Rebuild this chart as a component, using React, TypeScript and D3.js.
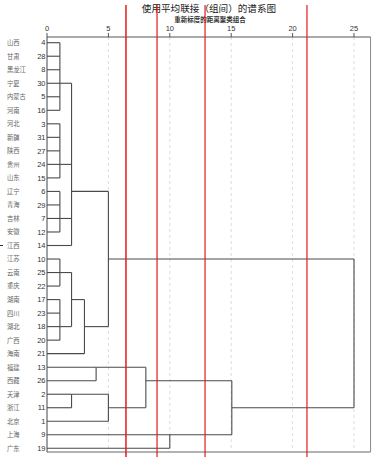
import React from 'react';
import * as d3 from 'd3';

const provinces = ['山西','甘肃','黑龙江','宁夏','内蒙古','河南','河北','新疆','陕西','贵州','山东','辽宁','青海','吉林','安徽','江西','江苏','云南','重庆','湖南','四川','湖北','广西','海南','福建','西藏','天津','浙江','北京','上海','广东'];
const caseIds = ['4','28','8','30','5','16','3','31','27','24','15','6','29','7','12','14','10','25','22','17','23','18','20','21','13','26','2','11','1','9','19'];

// cluster nodes: children (case ids or node ids), rescaled merge distance, row where the cluster line leaves
const nodeIds = ['A','B','C','D','E','F','G','H','I','J','K','L','M','N','O','R'];
const nodeChildren = [
  ['4','28','8','30','5','16'],
  ['3','31','27','24','15'],
  ['6','29','7','12'],
  ['A','B','C','14'],
  ['10','25','22'],
  ['17','23','18','20'],
  ['E','F'],
  ['G','21'],
  ['D','H'],
  ['13','26'],
  ['2','11'],
  ['K','1'],
  ['J','L'],
  ['9','19'],
  ['M','N'],
  ['I','O'],
];
const nodeHeights = [1.05, 1.05, 1.05, 2.0, 1.05, 1.05, 2.0, 3.05, 5.0, 4.0, 2.0, 5.0, 8.05, 10.0, 15.05, 25.0];
const nodeAnchors = ['30','24','7','6','25','18','17','18','10','13','2','11','26','9','11','10'];

const ticks = [0, 5, 10, 15, 20, 25];
const axisMax = 26.35;
const redCuts = [6.43, 8.96, 12.87, 21.17];

const title = '使用平均联接（组间）的谱系图';
const subtitle = '重新标度的距离聚类组合';

export default function App() {
  const W = 382, H = 457;
  const x = d3.scaleLinear().domain([0, 25]).range([47, 354]);
  const y = d3.scalePoint<string>().domain(caseIds).range([42.7, 448.3]);
  const top = 37, bottom = 452;
  const cjk = '"Noto Sans CJK SC", "Noto Sans", sans-serif';
  const sans = '"Liberation Sans", Arial, sans-serif';

  const heightOf = new Map<string, number>();
  const anchorOf = new Map<string, number>();
  caseIds.forEach(c => { heightOf.set(c, 0); anchorOf.set(c, y(c) as number); });
  nodeIds.forEach((id, i) => { heightOf.set(id, nodeHeights[i]); anchorOf.set(id, y(nodeAnchors[i]) as number); });

  const segs: { x1: number; y1: number; x2: number; y2: number }[] = [];
  nodeIds.forEach((id, i) => {
    const hx = x(nodeHeights[i]);
    const ys = nodeChildren[i].map(c => anchorOf.get(c)!);
    segs.push({ x1: hx, y1: d3.min(ys)!, x2: hx, y2: d3.max(ys)! });
    nodeChildren[i].forEach(c => {
      segs.push({ x1: x(heightOf.get(c)!), y1: anchorOf.get(c)!, x2: hx, y2: anchorOf.get(c)! });
    });
  });

  return (
    <div style={{ position: 'absolute', left: 0, top: 0 }}>
      <svg width={W} height={H} style={{ display: 'block', background: '#fff' }}>
        <text x={209} y={12} textAnchor="middle" fontFamily={cjk} fontSize={9.6} fill="#222">{title}</text>
        <text x={210} y={22.3} textAnchor="middle" fontFamily={cjk} fontSize={6.5} fontWeight="bold" fill="#333">{subtitle}</text>

        {ticks.filter(t => t > 0).map(t => (
          <line key={'g' + t} x1={x(t)} x2={x(t)} y1={top} y2={bottom} stroke="#d4d4d4" strokeDasharray="3,3" strokeWidth={0.8} />
        ))}

        {ticks.map(t => (
          <g key={'t' + t}>
            <line x1={x(t)} x2={x(t)} y1={top - 4} y2={top} stroke="#555" strokeWidth={1} />
            <text x={x(t)} y={30.5} textAnchor="middle" fontFamily={sans} fontSize={7.5} fill="#333">{t}</text>
          </g>
        ))}

        <line x1={x(0)} x2={x(axisMax)} y1={top} y2={top} stroke="#555" strokeWidth={1} />
        <line x1={x(axisMax)} x2={x(axisMax)} y1={top} y2={bottom} stroke="#888" strokeWidth={1} />
        <line x1={x(0)} x2={x(axisMax)} y1={bottom} y2={bottom} stroke="#999" strokeWidth={1.5} />
        <line x1={x(0)} x2={x(0)} y1={top} y2={bottom} stroke="#444" strokeWidth={1} />

        {segs.map((s, i) => (
          <line key={'s' + i} x1={s.x1} y1={s.y1} x2={s.x2} y2={s.y2} stroke="#4a4a4a" strokeWidth={1.1} />
        ))}

        {caseIds.map((c, i) => (
          <g key={'l' + c}>
            <text x={x(0) - 1.5} y={(y(c) as number) + 2.7} textAnchor="end" fontFamily={sans} fontSize={7.5} fill="#333">{c}</text>
            <text x={7} y={(y(c) as number) + 2.4} fontFamily={cjk} fontSize={6.3} fill="#666">{provinces[i]}</text>
          </g>
        ))}

        <line x1={0} x2={3} y1={y('14') as number} y2={y('14') as number} stroke="#333" strokeWidth={1} />

        {redCuts.map((v, i) => (
          <line key={'r' + i} x1={x(v)} x2={x(v)} y1={5} y2={H} stroke="#e31b1b" strokeWidth={i === 0 ? 1.5 : 1.2} />
        ))}
      </svg>
    </div>
  );
}
